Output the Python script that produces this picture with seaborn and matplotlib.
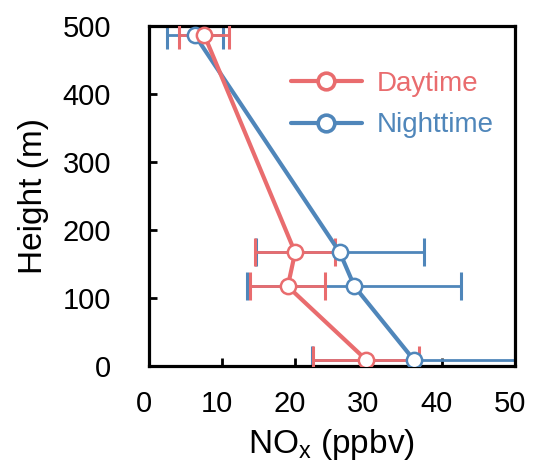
import matplotlib
matplotlib.use("Agg")
import matplotlib.pyplot as plt
import matplotlib.transforms as mtransforms
import seaborn as sns
from matplotlib.lines import Line2D

# ---- data ----
heights = [487, 167, 117, 9]
day_nox = [7.6, 20.0, 19.0, 29.7]
day_err = [3.4, 5.5, 5.1, 7.2]
night_nox = [6.3, 26.1, 28.1, 36.2]
night_err = [3.8, 11.5, 14.6, 13.9]
series_names = ["Daytime", "Nighttime"]
x_ticks = [0, 10, 20, 30, 40, 50]
y_ticks = [0, 100, 200, 300, 400, 500]

RED = "#E96C6E"
BLUE = "#4F86BA"

sns.set_theme(style="ticks")
plt.rcParams["font.family"] = ["Liberation Sans", "DejaVu Sans"]

fig = plt.figure(figsize=(5.33, 4.70), dpi=100)
ax = fig.add_axes([148.5 / 533, 1 - 366 / 470, (515 - 148.5) / 533, (366 - 26) / 470])

# error bars first
ax.errorbar(night_nox, heights, xerr=night_err, fmt="none", ecolor=BLUE,
            elinewidth=2.0, capsize=10, capthick=2.2, zorder=2)
ax.errorbar(day_nox, heights, xerr=day_err, fmt="none", ecolor=RED,
            elinewidth=2.0, capsize=10, capthick=2.2, zorder=3)

# profiles
sns.lineplot(x=night_nox, y=heights, sort=False, ax=ax, color=BLUE, lw=3.0,
             marker="o", markersize=11, markerfacecolor="white",
             markeredgecolor=BLUE, markeredgewidth=1.8, zorder=4)
sns.lineplot(x=day_nox, y=heights, sort=False, ax=ax, color=RED, lw=3.0,
             marker="o", markersize=11, markerfacecolor="white",
             markeredgecolor=RED, markeredgewidth=1.8, zorder=5)

ax.set_xlim(0, 50)
ax.set_ylim(0, 500)
ax.set_xticks(x_ticks)
ax.set_yticks(y_ticks)
ax.set_xticklabels([str(v) for v in x_ticks])
ax.set_yticklabels([str(v) for v in y_ticks])

for s in ax.spines.values():
    s.set_linewidth(2.3)
    s.set_color("black")
ax.tick_params(axis="both", direction="in", length=6, width=2.0, colors="black",
               labelsize=21, top=False, right=False)
ax.tick_params(axis="y", pad=27)
ax.tick_params(axis="x", pad=17.5)

shift = mtransforms.ScaledTranslation(-5 / 100, 0, fig.dpi_scale_trans)
for lab in ax.get_xticklabels():
    lab.set_transform(lab.get_transform() + shift)

ax.set_xlabel("NO$_\\mathregular{x}$ (ppbv)", fontsize=24, color="black", labelpad=6)
ax.set_ylabel("Height (m)", fontsize=24, color="black", labelpad=10)

handles = [
    Line2D([0], [0], color=RED, lw=3, marker="o", markersize=12,
           markerfacecolor="white", markeredgecolor=RED, markeredgewidth=2.6),
    Line2D([0], [0], color=BLUE, lw=3, marker="o", markersize=12,
           markerfacecolor="white", markeredgecolor=BLUE, markeredgewidth=2.6),
]
leg = ax.legend(handles, series_names, loc="upper left",
                bbox_to_anchor=(291 / 533, 1 - 71 / 470), bbox_transform=fig.transFigure,
                frameon=False, fontsize=20, handlelength=2.55, handletextpad=0.55,
                labelspacing=0.55, borderpad=0, borderaxespad=0,
                labelcolor=[RED, BLUE])

fig.savefig("out.png", dpi=100)
